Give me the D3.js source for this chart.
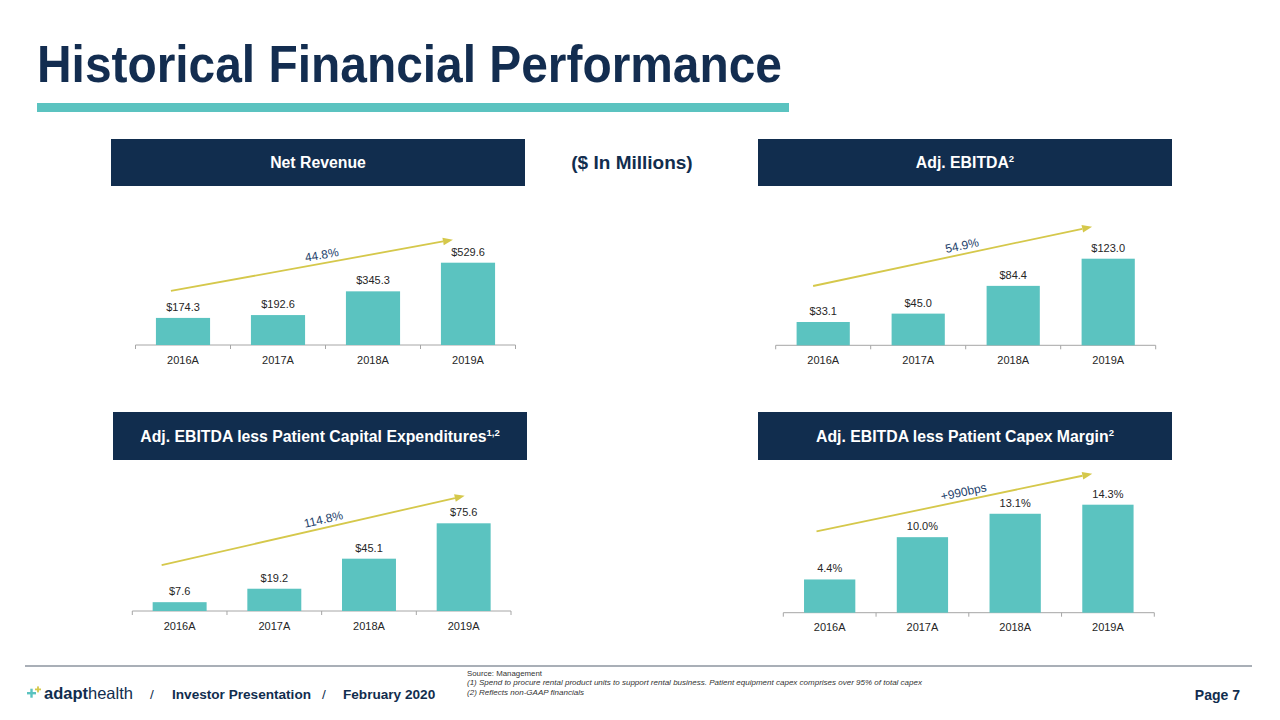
<!DOCTYPE html>
<html><head><meta charset="utf-8">
<script src="https://cdn.jsdelivr.net/npm/d3@7"></script>
<style>
body{margin:0;background:#fff;}
svg{display:block;font-family:"Liberation Sans",Arial,Helvetica,sans-serif;}
</style>
</head><body>
<svg id="c" width="1280" height="720"></svg>
<script>
// ---------- DATA ----------
const categories = ["2016A", "2017A", "2018A", "2019A"];
const netRevenue = [174.3, 192.6, 345.3, 529.6];
const adjEbitda = [33.1, 45.0, 84.4, 123.0];
const ebitdaLessCapex = [7.6, 19.2, 45.1, 75.6];
const capexMargin = [4.4, 10.0, 13.1, 14.3];
const growthLabels = ["44.8%", "54.9%", "114.8%", "+990bps"];
const panelTitles = ["Net Revenue", "Adj. EBITDA", "Adj. EBITDA less Patient Capital Expenditures", "Adj. EBITDA less Patient Capex Margin"];
const panelNotes = ["", "2", "1,2", "2"];
const valuePrefix = ["$", "$", "$", ""];
const valueSuffix = ["", "", "", "%"];

// ---------- STYLE / LAYOUT ----------
const NAVY = "#112d4e", TEAL = "#5bc3c0", GOLD = "#d5c84b", TEXT = "#262626";
const svg = d3.select("#c");

svg.append("text").attr("x", 37).attr("y", 82)
  .attr("font-size", 52).attr("font-weight", "bold").attr("fill", "#132d50")
  .attr("textLength", 745).attr("lengthAdjust", "spacingAndGlyphs")
  .text("Historical Financial Performance");
svg.append("rect").attr("x", 37).attr("y", 103).attr("width", 752).attr("height", 9).attr("fill", TEAL);

const headerBoxes = [
  {x: 111, y: 139, w: 414, h: 47},
  {x: 758, y: 139, w: 414, h: 47},
  {x: 113, y: 412, w: 414, h: 48},
  {x: 758, y: 412, w: 414, h: 48}
];
headerBoxes.forEach((b, i) => {
  svg.append("rect").attr("x", b.x).attr("y", b.y).attr("width", b.w).attr("height", b.h).attr("fill", NAVY);
  const t = svg.append("text").attr("x", b.x + b.w / 2).attr("y", b.y + b.h / 2 + 5.5)
    .attr("text-anchor", "middle").attr("fill", "#fff").attr("font-weight", "bold").attr("font-size", 15.8);
  t.append("tspan").text(panelTitles[i]);
  if (panelNotes[i]) t.append("tspan").attr("font-size", 9.5).attr("dy", -6).text(panelNotes[i]);
});
svg.append("text").attr("x", 632).attr("y", 169).attr("text-anchor", "middle")
  .attr("font-size", 19).attr("font-weight", "bold").attr("fill", NAVY).text("($ In Millions)");

const panels = [
  {vals: netRevenue, x0: 135.5, x1: 515.5, base: 345, top: 262.7, pad: 0.43, a: [15, 27, 12, 23]},
  {vals: adjEbitda, x0: 775.7, x1: 1155.7, base: 345.3, top: 258.7, pad: 0.44, a: [16.5, 36, 10.5, 32]},
  {vals: ebitdaLessCapex, x0: 132.3, x1: 511, base: 611, top: 523.3, pad: 0.43, a: [9, 37, 28, 27.5]},
  {vals: capexMargin, x0: 783.3, x1: 1154.3, base: 612.7, top: 504.7, pad: 0.447, a: [12.5, 48, 10, 31]}
];

panels.forEach((p, i) => {
  const g = svg.append("g");
  const x = d3.scaleBand().domain(categories).range([p.x0, p.x1]).paddingInner(p.pad).paddingOuter(p.pad / 2);
  const y = d3.scaleLinear().domain([0, d3.max(p.vals)]).range([p.base, p.top]);
  const fmt = d => valuePrefix[i] + d3.format(".1f")(d) + valueSuffix[i];

  // axis
  const ax = g.append("g").attr("transform", `translate(0,${p.base})`)
    .call(d3.axisBottom(x).tickSize(0).tickPadding(11));
  ax.select(".domain").remove();
  ax.selectAll("text").attr("font-size", 11).attr("fill", TEXT).attr("font-family", "inherit");
  const bounds = [p.x0].concat(categories.map(c => x(c) + x.bandwidth() + x.step() * p.pad / 2));
  g.append("line").attr("x1", p.x0).attr("x2", p.x1).attr("y1", p.base).attr("y2", p.base)
    .attr("stroke", "#a6a6a6").attr("stroke-width", 1);
  g.selectAll(".tk").data(bounds).join("line")
    .attr("x1", d => d).attr("x2", d => d).attr("y1", p.base).attr("y2", p.base + 4)
    .attr("stroke", "#a6a6a6");

  // bars
  g.selectAll(".bar").data(p.vals).join("rect")
    .attr("x", (d, j) => x(categories[j])).attr("width", x.bandwidth())
    .attr("y", d => y(d)).attr("height", d => p.base - y(d)).attr("fill", TEAL);
  g.selectAll(".lbl").data(p.vals).join("text")
    .attr("x", (d, j) => x(categories[j]) + x.bandwidth() / 2).attr("y", d => y(d) - 7)
    .attr("text-anchor", "middle").attr("font-size", 11).attr("fill", TEXT).text(d => fmt(d));

  // growth arrow
  const n = p.vals.length;
  const s = [x(categories[0]) + p.a[0], y(p.vals[0]) - p.a[1]];
  const e = [x(categories[n - 1]) + p.a[2], y(p.vals[n - 1]) - p.a[3]];
  const ang = Math.atan2(e[1] - s[1], e[0] - s[0]);
  const ux = Math.cos(ang), uy = Math.sin(ang);
  const hl = 10, hw = 3.8;
  const bx = e[0] - ux * hl, by = e[1] - uy * hl;
  g.append("line").attr("x1", s[0]).attr("y1", s[1]).attr("x2", bx).attr("y2", by)
    .attr("stroke", GOLD).attr("stroke-width", 1.8);
  g.append("path").attr("d", `M${e[0]},${e[1]}L${bx - uy * hw},${by + ux * hw}L${bx + uy * hw},${by - ux * hw}Z`)
    .attr("fill", GOLD);
  const t = 0.54, off = 8.5;
  const lx = s[0] + (e[0] - s[0]) * t + uy * off, ly = s[1] + (e[1] - s[1]) * t - ux * off;
  g.append("text").attr("transform", `translate(${lx},${ly}) rotate(${ang * 180 / Math.PI})`)
    .attr("text-anchor", "middle").attr("dominant-baseline", "central")
    .attr("font-size", 12).attr("fill", "#243f6b").text(growthLabels[i]);
});

// ---------- FOOTER ----------
svg.append("line").attr("x1", 25).attr("x2", 1252).attr("y1", 666).attr("y2", 666)
  .attr("stroke", "#8c959f").attr("stroke-width", 1.5);
// logo pluses
svg.append("rect").attr("x", 27).attr("y", 692).attr("width", 9).attr("height", 2.4).attr("fill", TEAL);
svg.append("rect").attr("x", 30.3).attr("y", 688.7).attr("width", 2.4).attr("height", 9).attr("fill", TEAL);
svg.append("rect").attr("x", 35).attr("y", 688.5).attr("width", 6).attr("height", 1.8).attr("fill", GOLD);
svg.append("rect").attr("x", 37.1).attr("y", 686.4).attr("width", 1.8).attr("height", 6).attr("fill", GOLD);
const logo = svg.append("text").attr("x", 44).attr("y", 699).attr("font-size", 16.5).attr("fill", NAVY);
logo.append("tspan").attr("font-weight", "bold").text("adapt");
logo.append("tspan").text("health");

const foot = [{x: 150, t: "/", w: "normal"}, {x: 172, t: "Investor Presentation", w: "bold"},
  {x: 322, t: "/", w: "normal"}, {x: 343, t: "February 2020", w: "bold"}];
foot.forEach(f => svg.append("text").attr("x", f.x).attr("y", 699).attr("font-size", 13.6)
  .attr("font-weight", f.w).attr("fill", NAVY).text(f.t));
const notes = [
  {t: "Source: Management", it: false, len: 75},
  {t: "(1) Spend to procure rental product units to support rental business. Patient equipment capex comprises over 95% of total capex", it: true, len: 455},
  {t: "(2) Reflects non-GAAP financials", it: true, len: 117}
];
notes.forEach((nt, k) => svg.append("text").attr("x", 467).attr("y", 676 + k * 9.3).attr("font-size", 7.6)
  .attr("font-style", nt.it ? "italic" : "normal").attr("fill", "#333")
  .attr("textLength", nt.len).attr("lengthAdjust", "spacingAndGlyphs").text(nt.t));
svg.append("text").attr("x", 1240).attr("y", 700).attr("text-anchor", "end").attr("font-size", 14)
  .attr("font-weight", "bold").attr("fill", NAVY).text("Page  7");
</script>
</body></html>
